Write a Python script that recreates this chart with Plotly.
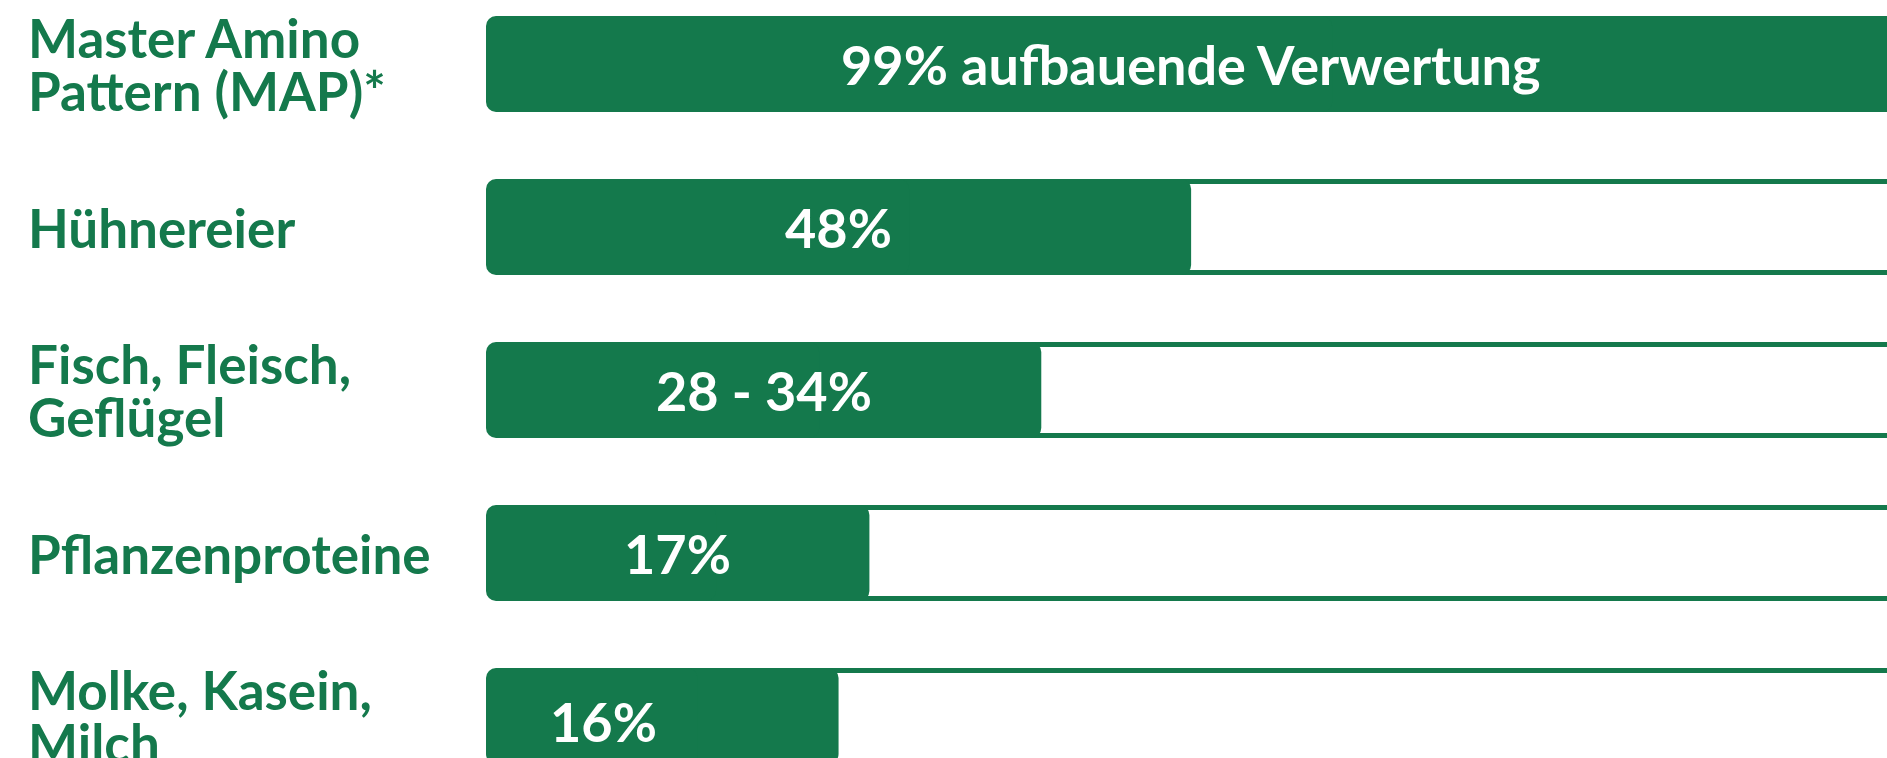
import plotly.graph_objects as go

# ---- data ----
categories = [
    "Master Amino<br>Pattern (MAP)*",
    "Hühnereier",
    "Fisch, Fleisch,<br>Geflügel",
    "Pflanzenproteine",
    "Molke, Kasein,<br>Milch",
]
value_labels = ["99% aufbauende Verwertung", "48%", "28 - 34%", "17%", "16%"]
fill_length = [96, 48, 37.8, 26.1, 24]      # drawn length of the green bar (percent scale)
track_length = [100, 100, 100, 100, 100]    # full background track

GREEN = "#14794C"
FONT = "Lato"

# green fill drawn as two overlapping pieces so both ends get rounded corners
right_base = [f * 0.4 for f in fill_length]
right_len = [f * 0.6 for f in fill_length]
left_base = [f * 0.6 for f in fill_length]
left_len = [-f * 0.6 for f in fill_length]
# track starts hidden behind the fill so its left outline never shows
track_base = [f * 0.5 for f in fill_length]
track_len = [t - b for t, b in zip(track_length, track_base)]

fig = go.Figure()

fig.add_trace(go.Bar(
    y=categories, x=track_len, base=track_base, orientation="h",
    width=0.558,
    marker=dict(color="white", line=dict(color=GREEN, width=5)),
    hoverinfo="skip", showlegend=False,
))
fig.add_trace(go.Bar(
    y=categories, x=right_len, base=right_base, orientation="h",
    width=0.589,
    marker=dict(color=GREEN, line=dict(width=0), cornerradius=10),
    hoverinfo="skip", showlegend=False,
))
fig.add_trace(go.Bar(
    y=categories, x=left_len, base=left_base, orientation="h",
    width=0.589,
    marker=dict(color=GREEN, line=dict(width=0), cornerradius=10),
    hoverinfo="skip", showlegend=False,
))

annotations = []
LINE = 53
for k, cat in enumerate(categories):
    lines = cat.split("<br>")
    m = len(lines)
    for i, ln in enumerate(lines):
        annotations.append(dict(
            xref="paper", yref="y", x=-0.3285, y=k,
            xanchor="left", yanchor="middle",
            yshift=-(i - (m - 1) / 2) * LINE,
            text=ln, showarrow=False, align="left",
            font=dict(family=FONT, size=53, color=GREEN, weight="bold"),
        ))

label_center = [f / 2 for f in fill_length]
label_center[4] = 16 / 2   # reference places this label at the middle of 16 %
for k, txt in enumerate(value_labels):
    annotations.append(dict(
        xref="x", yref="y", x=label_center[k], y=k,
        xanchor="center", yanchor="middle",
        yshift=-5 if k == 4 else 0,
        text=txt, showarrow=False,
        font=dict(family=FONT, size=54, color="white", weight="bold"),
    ))

span = 758 / 163
ymin = -64 / 163
fig.update_layout(
    width=1887, height=758,
    margin=dict(l=486, r=0, t=0, b=0),
    paper_bgcolor="white", plot_bgcolor="white",
    barmode="overlay",
    xaxis=dict(range=[0, (1887 - 486) / 14.69], visible=False, fixedrange=True),
    yaxis=dict(range=[ymin + span, ymin], visible=False, fixedrange=True,
               type="category", categoryorder="array", categoryarray=categories),
    annotations=annotations,
)

fig.write_html("out.html")
